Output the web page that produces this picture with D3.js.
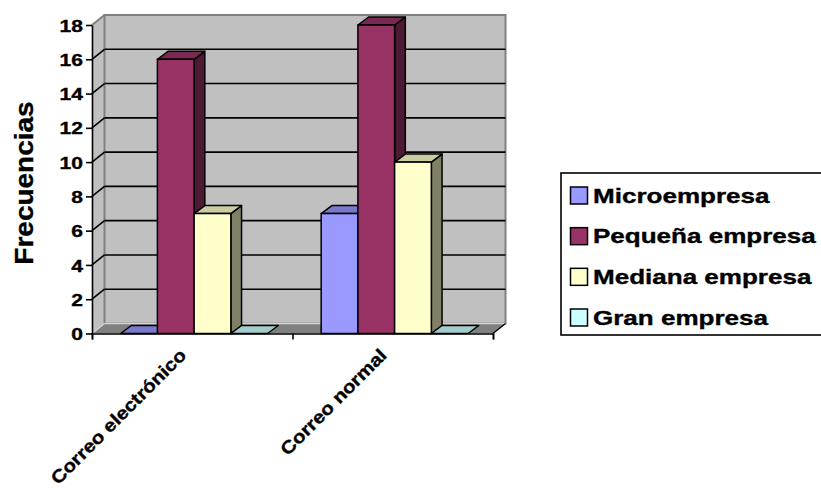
<!DOCTYPE html>
<html>
<head>
<meta charset="utf-8">
<script src="https://cdn.jsdelivr.net/npm/d3@7/dist/d3.min.js"></script>
<style>
  html, body { margin: 0; padding: 0; background: #fff; }
  svg { display: block; }
  text { font-family: "Liberation Sans", Arial, sans-serif; font-weight: bold; fill: #000;
         stroke: #000; stroke-width: 0.35px; }
</style>
</head>
<body>
<svg id="chart" width="821" height="488"></svg>
<script>
// Categories and series values
const categories = ["Correo electrónico", "Correo normal"];
const seriesNames = ["Microempresa", "Pequeña empresa", "Mediana empresa", "Gran empresa"];
const microempresa = [0, 7];
const pequenaEmpresa = [16, 18];
const medianaEmpresa = [7, 10];
const granEmpresa = [0, 0];
const yTickValues = [0, 2, 4, 6, 8, 10, 12, 14, 16, 18];
const yTitle = "Frecuencias";

const seriesValues = [microempresa, pequenaEmpresa, medianaEmpresa, granEmpresa];
const frontColors = ["#9999FF", "#993366", "#FFFFCC", "#CCFFFF"];

const svg = d3.select("#chart");

// Plot frame (front plane) and 3D depth offsets
const plot = { left: 92, right: 493, top: 25, bottom: 333.5 };
const wall = { dx: 12.5, dy: 10 };
const bar = { dx: 10.7, dy: 8 };
const stretch = 1.24; // horizontal widening of the chart lettering

const y = d3.scaleLinear().domain([0, 18]).range([plot.bottom, plot.top]);
const x0 = d3.scaleBand().domain(categories).range([plot.left, plot.right]).padding(0);
const x1 = d3.scaleBand().domain(seriesNames).range([0, x0.bandwidth()])
  .paddingInner(0).paddingOuter(0.73).align(0.535);

const shade = (c, k) => {
  const r = d3.rgb(c);
  return d3.rgb(r.r * k, r.g * k, r.b * k).formatHex();
};
const pts = arr => arr.map(p => p.join(",")).join(" ");

// Walls and floor
const g = svg.append("g");
g.append("polygon")
  .attr("points", pts([[plot.left, plot.bottom], [plot.left, plot.top],
    [plot.left + wall.dx, plot.top - wall.dy], [plot.left + wall.dx, plot.bottom - wall.dy]]))
  .attr("fill", "#C0C0C0");
g.append("rect")
  .attr("x", plot.left + wall.dx).attr("y", plot.top - wall.dy)
  .attr("width", plot.right - plot.left).attr("height", plot.bottom - plot.top)
  .attr("fill", "#C0C0C0").attr("stroke", "#808080").attr("stroke-width", 2);
g.append("polygon")
  .attr("points", pts([[plot.left, plot.bottom], [plot.right, plot.bottom],
    [plot.right + wall.dx, plot.bottom - wall.dy], [plot.left + wall.dx, plot.bottom - wall.dy]]))
  .attr("fill", "#808080");
g.append("line")
  .attr("x1", plot.left + wall.dx).attr("y1", plot.bottom - wall.dy)
  .attr("x2", plot.right + wall.dx).attr("y2", plot.bottom - wall.dy)
  .attr("stroke", "#D4D4D4").attr("stroke-width", 1.5);
g.append("line")
  .attr("x1", plot.left).attr("y1", plot.bottom)
  .attr("x2", plot.left + wall.dx).attr("y2", plot.bottom - wall.dy)
  .attr("stroke", "#D4D4D4").attr("stroke-width", 1.5);
g.append("line")
  .attr("x1", plot.left).attr("y1", plot.top)
  .attr("x2", plot.left + wall.dx).attr("y2", plot.top - wall.dy)
  .attr("stroke", "#808080").attr("stroke-width", 2);
g.append("line")
  .attr("x1", plot.right).attr("y1", plot.bottom)
  .attr("x2", plot.right + wall.dx).attr("y2", plot.bottom - wall.dy)
  .attr("stroke", "#000").attr("stroke-width", 1.5);

// Gridlines on the back and side walls
const inner = yTickValues.filter(t => t > 0 && t < 18);
g.selectAll(".grid-back").data(inner).join("line")
  .attr("x1", plot.left + wall.dx).attr("x2", plot.right + wall.dx)
  .attr("y1", d => y(d) - wall.dy).attr("y2", d => y(d) - wall.dy)
  .attr("stroke", "#000").attr("stroke-width", 1.6);
g.selectAll(".grid-side").data(inner).join("line")
  .attr("x1", plot.left).attr("x2", plot.left + wall.dx)
  .attr("y1", d => y(d)).attr("y2", d => y(d) - wall.dy)
  .attr("stroke", "#000").attr("stroke-width", 1.6);

// Bars: front face, top face, right side face
const bars = svg.append("g");
categories.forEach((cat, ci) => {
  seriesNames.forEach((s, si) => {
    const v = seriesValues[si][ci];
    const xa = x0(cat) + x1(s);
    const xb = xa + x1.bandwidth();
    const yt = y(v), yb = y(0);
    const col = frontColors[si];
    const bg = bars.append("g");
    if (v > 0) {
      bg.append("polygon")
        .attr("points", pts([[xb, yt], [xb + bar.dx, yt - bar.dy], [xb + bar.dx, yb - bar.dy], [xb, yb]]))
        .attr("fill", shade(col, 0.5)).attr("stroke", "#000").attr("stroke-width", 1.5)
        .attr("stroke-linejoin", "round");
    }
    bg.append("polygon")
      .attr("points", pts([[xa, yt], [xa + bar.dx, yt - bar.dy], [xb + bar.dx, yt - bar.dy], [xb, yt]]))
      .attr("fill", shade(col, 0.8)).attr("stroke", "#000").attr("stroke-width", 1.5)
      .attr("stroke-linejoin", "round");
    if (v > 0) {
      bg.append("rect")
        .attr("x", xa).attr("y", yt).attr("width", xb - xa).attr("height", yb - yt)
        .attr("fill", col).attr("stroke", "#000").attr("stroke-width", 1.5);
    }
  });
});

// Value axis
const yAxis = svg.append("g")
  .attr("transform", `translate(${plot.left},0)`)
  .call(d3.axisLeft(y).tickValues(yTickValues).tickSize(6).tickSizeOuter(0));
yAxis.select(".domain").attr("stroke", "#000").attr("stroke-width", 1.6);
yAxis.selectAll(".tick line").attr("stroke", "#000").attr("stroke-width", 1.6);
yAxis.selectAll(".tick text")
  .attr("x", -9 / stretch).attr("dy", "0.36em")
  .attr("transform", `scale(${stretch},1)`)
  .style("font-size", "17px");

// Category axis: boundary ticks and rotated labels
const xEdge = d3.scaleLinear().domain([0, categories.length]).range([plot.left, plot.right]);
const xAxis = svg.append("g")
  .attr("transform", `translate(0,${plot.bottom})`)
  .call(d3.axisBottom(xEdge).tickValues(d3.range(categories.length + 1)).tickSize(6).tickFormat(""));
xAxis.select(".domain").attr("stroke", "#000").attr("stroke-width", 1.6);
xAxis.selectAll(".tick line").attr("stroke", "#000").attr("stroke-width", 1.6);

svg.append("g").selectAll("text").data(categories).join("text")
  .attr("transform", d => `translate(${x0(d) + x0.bandwidth() / 2 - 5},356.5) rotate(-45) scale(1.14,1)`)
  .attr("text-anchor", "end")
  .style("font-size", "18px")
  .text(d => d);

// Axis title
svg.append("text")
  .attr("transform", "translate(33,183) rotate(-90) scale(1.12,1)")
  .attr("text-anchor", "middle")
  .style("font-size", "25px")
  .text(yTitle);

// Legend
const legend = svg.append("g");
legend.append("rect")
  .attr("x", 561).attr("y", 173).attr("width", 300).attr("height", 162)
  .attr("fill", "#fff").attr("stroke", "#000").attr("stroke-width", 1.6);
const rowY = d3.scalePoint().domain(seriesNames).range([195.5, 317.5]);
const items = legend.selectAll(".item").data(seriesNames).join("g")
  .attr("transform", d => `translate(0,${rowY(d)})`);
items.append("rect")
  .attr("x", 570.5).attr("y", -8.5).attr("width", 17).attr("height", 17)
  .attr("fill", (d, i) => frontColors[i]).attr("stroke", "#000").attr("stroke-width", 1.5);
items.append("text")
  .attr("transform", `translate(593,7.3) scale(1.27,1)`)
  .style("font-size", "20.5px")
  .text(d => d);
</script>
</body>
</html>
